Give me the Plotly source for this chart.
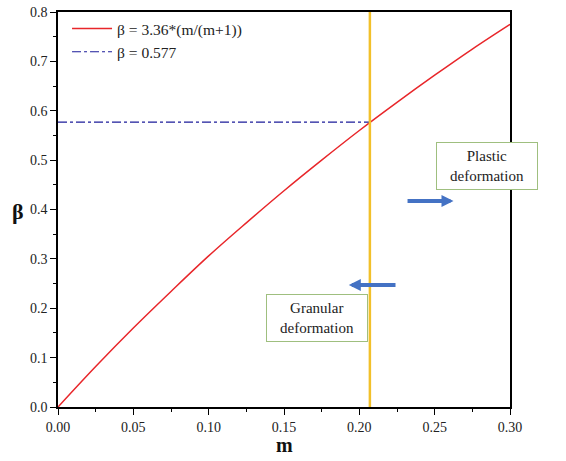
import plotly.graph_objects as go

# data
m_vals = [0.0, 0.025, 0.05, 0.075, 0.1, 0.125, 0.15, 0.175, 0.2, 0.225, 0.25, 0.275, 0.3]
beta_vals = [0.0, 0.082, 0.160, 0.234, 0.306, 0.373, 0.438, 0.500, 0.560, 0.617, 0.672, 0.725, 0.775]
beta_const = 0.577
m_crit = 0.207
x_ticks = [0.0, 0.05, 0.10, 0.15, 0.20, 0.25, 0.30]
y_ticks = [0.0, 0.1, 0.2, 0.3, 0.4, 0.5, 0.6, 0.7, 0.8]

FONT = "Liberation Serif, Times New Roman, serif"

fig = go.Figure()
fig.add_trace(go.Scatter(x=m_vals, y=beta_vals, mode="lines", line=dict(color="#e8262a", width=1.5, shape="spline"),
                         name="β = 3.36*(m/(m+1))"))
fig.add_trace(go.Scatter(x=[0, m_crit], y=[beta_const, beta_const], mode="lines",
                         line=dict(color="#1c1c9a", width=1.2, dash="dashdot"), name="β = 0.577"))
fig.add_trace(go.Scatter(x=[m_crit, m_crit], y=[0, 0.8], mode="lines",
                         line=dict(color="#f2c02a", width=2.5), showlegend=False))

axis_common = dict(showline=True, linecolor="black", linewidth=1.5, mirror=True, ticks="outside",
                   ticklen=6, tickwidth=1.2, tickcolor="black", showgrid=False, zeroline=False,
                   automargin=False, tickfont=dict(family=FONT, size=14, color="#222"))
fig.update_xaxes(range=[0, 0.3], tickvals=x_ticks, ticktext=[f"{v:.2f}" for v in x_ticks],
                 minor=dict(ticks="outside", ticklen=3, tickcolor="black", dtick=0.025, showgrid=False),
                 **axis_common)
fig.update_yaxes(range=[0, 0.8], tickvals=y_ticks, ticktext=[f"{v:.1f}" for v in y_ticks],
                 minor=dict(ticks="outside", ticklen=3, tickcolor="black", dtick=0.05, showgrid=False),
                 **axis_common)

ann_font = dict(family=FONT, size=15, color="#222")
fig.add_annotation(x=0.2847, y=0.488, xref="x", yref="y", text="Plastic<br>deformation", showarrow=False,
                   font=ann_font, bordercolor="#9fbf7f", borderwidth=1, borderpad=4, width=92, height=38,
                   bgcolor="white")
fig.add_annotation(x=0.1719, y=0.180, xref="x", yref="y", text="Granular<br>deformation", showarrow=False,
                   font=ann_font, bordercolor="#9fbf7f", borderwidth=1, borderpad=4, width=92, height=38,
                   bgcolor="white")
# arrows
fig.add_annotation(x=0.2625, y=0.417, ax=0.231, ay=0.417, xref="x", yref="y", axref="x", ayref="y",
                   text="", showarrow=True, arrowhead=2, arrowsize=0.6, arrowwidth=4, arrowcolor="#4472c4")
fig.add_annotation(x=0.1930, y=0.247, ax=0.225, ay=0.247, xref="x", yref="y", axref="x", ayref="y",
                   text="", showarrow=True, arrowhead=2, arrowsize=0.6, arrowwidth=4, arrowcolor="#4472c4")
# axis titles
fig.add_annotation(x=-0.089, y=0.495, xref="paper", yref="paper", text="<b>β</b>", showarrow=False,
                   font=dict(family=FONT, size=22, color="#111"), xanchor="center")
fig.add_annotation(x=0.5, y=-0.097, xref="paper", yref="paper", text="<b>m</b>", showarrow=False,
                   font=dict(family=FONT, size=20, color="#111"), xanchor="center", yanchor="middle")

fig.update_layout(width=566, height=461, margin=dict(l=58, r=56, t=12, b=54),
                  plot_bgcolor="white", paper_bgcolor="white",
                  legend=dict(x=0.02, y=1.0, xanchor="left", yanchor="top", bgcolor="rgba(0,0,0,0)",
                              font=dict(family=FONT, size=15.5, color="#222"), tracegroupgap=0, itemwidth=40))

fig.write_html("out.html", post_script="document.body.style.margin='0';",
               config={"displayModeBar": False})
